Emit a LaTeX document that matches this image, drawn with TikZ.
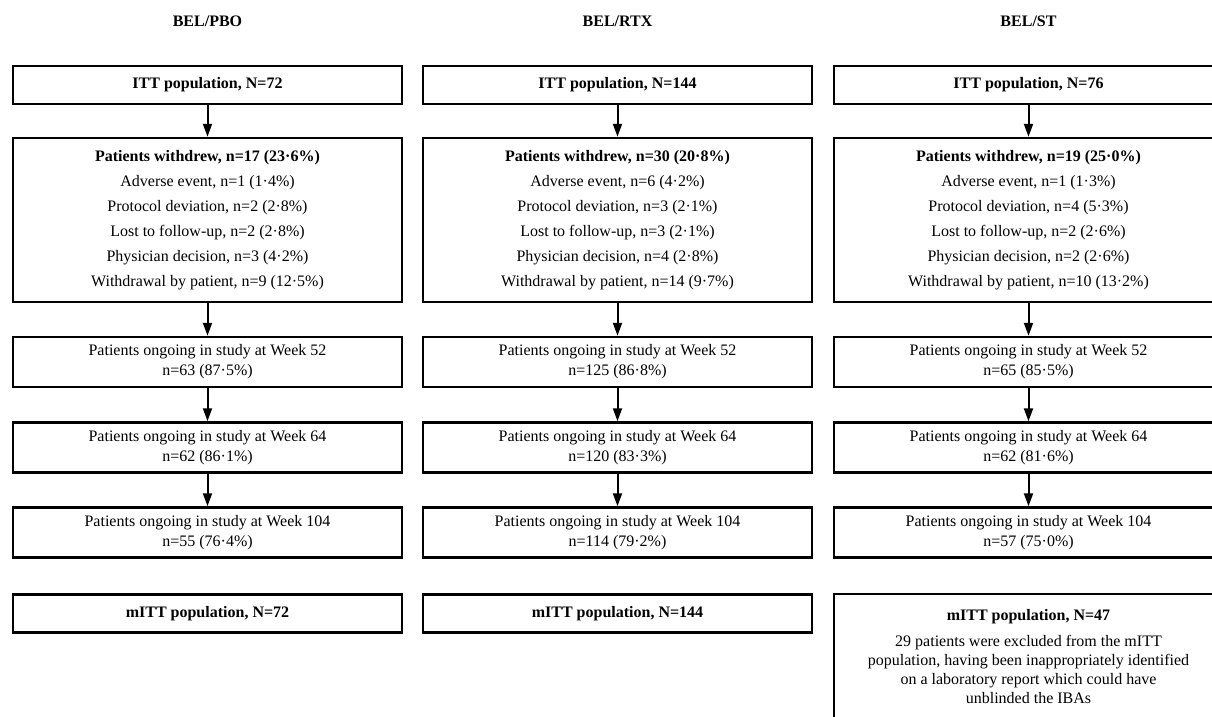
\documentclass[tikz,border=0pt]{standalone}
\usepackage{fontspec}
\setmainfont{Liberation Serif}
\usetikzlibrary{arrows.meta}

\tikzset{
  head/.style={font=\fontsize{16}{19}\selectfont\bfseries},
  box/.style={draw, line width=2.5pt, minimum width=389pt, inner sep=0pt, align=center,
    font=\fontsize{16}{20}\selectfont},
  wdbox/.style={box, minimum height=164pt, font=\fontsize{16}{25}\selectfont},
  popbox/.style={box, minimum height=38pt},
  weekbox/.style={box, minimum height=50pt},
  arr/.style={line width=2pt, -{Triangle[length=13pt,width=9pt]}}
}

\begin{document}
\begin{tikzpicture}[x=1pt,y=-1pt]
  \useasboundingbox (0,0) rectangle (1212,717);
  \clip (0,0) rectangle (1212,717);

  % BEL/PBO
  \node[head] (hA) at (207.5,21) {BEL/PBO};
  \node[popbox] (ittA) at (207.5,85) {\textbf{ITT population, N=72}};
  \node[wdbox] (wdA) at (207.5,220) {\textbf{Patients withdrew, n=17 (23·6\%)}\\
    Adverse event, n=1 (1·4\%)\\ Protocol deviation, n=2 (2·8\%)\\
    Lost to follow-up, n=2 (2·8\%)\\ Physician decision, n=3 (4·2\%)\\
    Withdrawal by patient, n=9 (12·5\%)};
  \node[weekbox] (wkA1) at (207.5,362) {Patients ongoing in study at Week 52\\ n=63 (87·5\%)};
  \node[weekbox] (wkA2) at (207.5,447.5) {Patients ongoing in study at Week 64\\ n=62 (86·1\%)};
  \node[weekbox] (wkA3) at (207.5,532.5) {Patients ongoing in study at Week 104\\ n=55 (76·4\%)};
  \node[popbox] (mittA) at (207.5,613.5) {\textbf{mITT population, N=72}};

  % BEL/RTX
  \node[head] (hB) at (617.5,21) {BEL/RTX};
  \node[popbox] (ittB) at (617.5,85) {\textbf{ITT population, N=144}};
  \node[wdbox] (wdB) at (617.5,220) {\textbf{Patients withdrew, n=30 (20·8\%)}\\
    Adverse event, n=6 (4·2\%)\\ Protocol deviation, n=3 (2·1\%)\\
    Lost to follow-up, n=3 (2·1\%)\\ Physician decision, n=4 (2·8\%)\\
    Withdrawal by patient, n=14 (9·7\%)};
  \node[weekbox] (wkB1) at (617.5,362) {Patients ongoing in study at Week 52\\ n=125 (86·8\%)};
  \node[weekbox] (wkB2) at (617.5,447.5) {Patients ongoing in study at Week 64\\ n=120 (83·3\%)};
  \node[weekbox] (wkB3) at (617.5,532.5) {Patients ongoing in study at Week 104\\ n=114 (79·2\%)};
  \node[popbox] (mittB) at (617.5,613.5) {\textbf{mITT population, N=144}};

  % BEL/ST
  \node[head] (hC) at (1028.5,21) {BEL/ST};
  \node[popbox] (ittC) at (1028.5,85) {\textbf{ITT population, N=76}};
  \node[wdbox] (wdC) at (1028.5,220) {\textbf{Patients withdrew, n=19 (25·0\%)}\\
    Adverse event, n=1 (1·3\%)\\ Protocol deviation, n=4 (5·3\%)\\
    Lost to follow-up, n=2 (2·6\%)\\ Physician decision, n=2 (2·6\%)\\
    Withdrawal by patient, n=10 (13·2\%)};
  \node[weekbox] (wkC1) at (1028.5,362) {Patients ongoing in study at Week 52\\ n=65 (85·5\%)};
  \node[weekbox] (wkC2) at (1028.5,447.5) {Patients ongoing in study at Week 64\\ n=62 (81·6\%)};
  \node[weekbox] (wkC3) at (1028.5,532.5) {Patients ongoing in study at Week 104\\ n=57 (75·0\%)};
  \node[box, minimum height=125pt, font=\fontsize{16}{19}\selectfont] (mittC) at (1028.5,656.5)
    {\textbf{mITT population, N=47}\\[7pt]
    29 patients were excluded from the mITT\\
    population, having been inappropriately identified\\
    on a laboratory report which could have\\
    unblinded the IBAs};

  \foreach \c in {A,B,C} {
    \draw[arr] (itt\c) -- (wd\c);
    \draw[arr] (wd\c) -- (wk\c1);
    \draw[arr] (wk\c1) -- (wk\c2);
    \draw[arr] (wk\c2) -- (wk\c3);
  }
\end{tikzpicture}
\end{document}
